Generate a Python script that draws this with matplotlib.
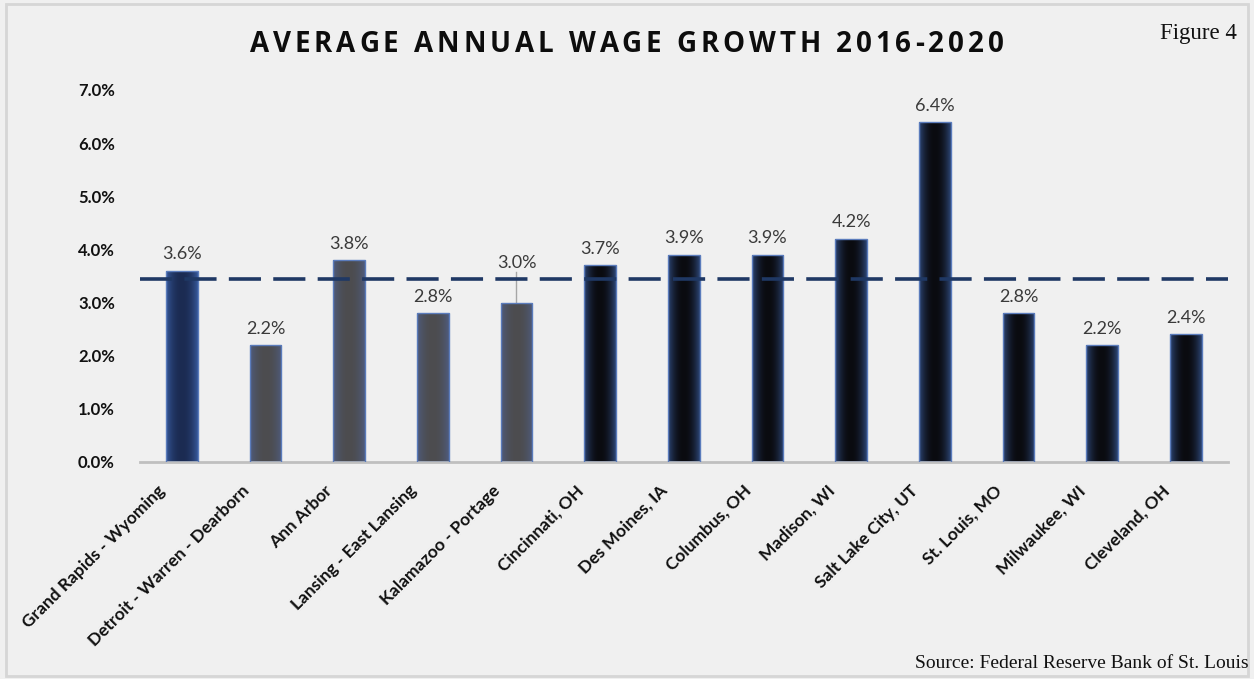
import numpy as np
import matplotlib
matplotlib.use("Agg")
import matplotlib.pyplot as plt
from matplotlib.patches import Rectangle
from matplotlib.colors import to_rgb
from matplotlib.font_manager import FontProperties
from matplotlib.transforms import ScaledTranslation

cities = [
    "Grand Rapids - Wyoming",
    "Detroit - Warren - Dearborn",
    "Ann Arbor",
    "Lansing - East Lansing",
    "Kalamazoo - Portage",
    "Cincinnati, OH",
    "Des Moines, IA",
    "Columbus, OH",
    "Madison, WI",
    "Salt Lake City, UT",
    "St. Louis, MO",
    "Milwaukee, WI",
    "Cleveland, OH",
]
growth = [3.6, 2.2, 3.8, 2.8, 3.0, 3.7, 3.9, 3.9, 4.2, 6.4, 2.8, 2.2, 2.4]
group = ["home", "mi", "mi", "mi", "mi", "peer", "peer", "peer", "peer", "peer", "peer", "peer", "peer"]
average = 3.45
yticks = [0, 1, 2, 3, 4, 5, 6, 7]
title = "AVERAGE ANNUAL WAGE GROWTH 2016-2020"

# centre / edge colours of the horizontal gradient in each bar
shades = {
    "home": ("#1b2b52", "#36589a"),
    "mi": ("#4c4c4f", "#4f5c7e"),
    "peer": ("#0a0b10", "#2d4676"),
}

BG = "#f0f0f0"
FONT = "Lato"
fig = plt.figure(figsize=(12.54, 6.79), dpi=100, facecolor=BG)
ax = fig.add_axes([0.1116, 0.3196, 0.8674, 0.5479])
ax.set_facecolor(BG)

x = np.arange(len(cities))
width = 0.38
bars = ax.bar(x, growth, width=width, color="none", edgecolor="#5b7cbc", linewidth=1.0, zorder=3)

prof = np.abs(np.linspace(-1, 1, 64)) ** 2.2
for b, g in zip(bars, group):
    c0, c1 = np.array(to_rgb(shades[g][0])), np.array(to_rgb(shades[g][1]))
    img = c0[None, :] * (1 - prof[:, None]) + c1[None, :] * prof[:, None]
    im = ax.imshow(img[None, :, :], extent=(b.get_x(), b.get_x() + b.get_width(), 0, b.get_height()),
                   aspect="auto", zorder=2, interpolation="bilinear")
    clip = Rectangle((b.get_x(), 0), b.get_width(), b.get_height(), transform=ax.transData)
    im.set_clip_path(clip)

# value labels; Kalamazoo's sits higher with a leader line
for i, v in enumerate(growth):
    if cities[i] == "Kalamazoo - Portage":
        ax.plot([i, i], [v, v + 0.58], color="#a6a6a6", lw=1.0, zorder=1)
        ax.text(i, v + 0.60, f"{v:.1f}%", ha="center", va="bottom", fontsize=13,
                family=FONT, color="#3a3a3a")
    else:
        ax.annotate(f"{v:.1f}%", (i, v), xytext=(0, 6), textcoords="offset points",
                    ha="center", va="bottom", fontsize=13, family=FONT, color="#3a3a3a")

ax.axhline(average, color="#1f3864", lw=2.6, linestyle=(0, (8.9, 3.4)), zorder=4)

ax.set_xlim(-0.5, len(cities) - 0.5)
ax.set_ylim(0, 7)
ax.set_yticks(yticks)
ax.set_yticklabels([f"{t:.1f}%" for t in yticks], fontsize=12, fontweight="bold",
                   family=FONT, color="#111111")
ax.set_xticks(x)
ax.set_xticklabels([])
ax.tick_params(axis="y", length=0, pad=18)
ax.tick_params(axis="x", length=0)

# category names, slanted and tucked a little left of each bar
name_tr = ax.get_xaxis_transform() + ScaledTranslation(-0.19, -0.26, fig.dpi_scale_trans)
for i, name in enumerate(cities):
    ax.text(i, 0, name, transform=name_tr, rotation=45, ha="right", va="center",
            rotation_mode="anchor", fontsize=12.5, fontweight="bold", family=FONT,
            color="#111111", clip_on=False)

for s in ["top", "right", "left"]:
    ax.spines[s].set_visible(False)
ax.spines["bottom"].set_color("#bfbfbf")
ax.spines["bottom"].set_linewidth(2)

# spaced-out title, laid out one character at a time
renderer = fig.canvas.get_renderer()
tprop = FontProperties(family="Open Sans", weight="bold", size=20)
tracking = 4.0
full_w = renderer.get_text_width_height_descent(title, tprop, ismath=False)[0]
total = full_w + tracking * (len(title) - 1)
x0 = fig.bbox.width * 0.5 - total / 2
for k, ch in enumerate(title):
    pre = renderer.get_text_width_height_descent(title[:k], tprop, ismath=False)[0] if k else 0
    fig.text((x0 + pre + tracking * k) / fig.bbox.width, 0.934, ch, ha="left", va="center",
             fontproperties=tprop, color="#0d0d0d")

fig.text(0.986, 0.951, "Figure 4", ha="right", va="center", fontsize=16.5,
         family="Liberation Serif", color="#111111")
fig.text(0.996, 0.023, "Source: Federal Reserve Bank of St. Louis", ha="right", va="center",
         fontsize=14, family="Liberation Serif", color="#111111")

fig.patches.append(Rectangle((0.005, 0.004), 0.99, 0.99, transform=fig.transFigure,
                             facecolor="none", edgecolor="#d6d6d6", lw=2))

fig.savefig("out.png", dpi=100, facecolor=BG)
